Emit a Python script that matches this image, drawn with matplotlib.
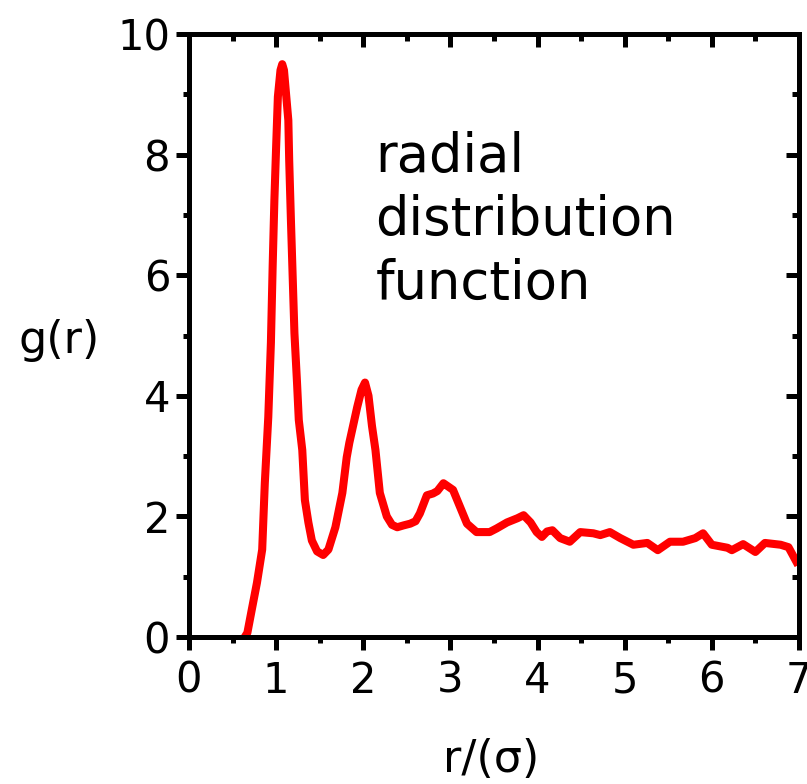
#! /usr/bin/env python3
# -*- coding: utf-8 -*-
# g(r) radial distribution function plot
import matplotlib
matplotlib.use('Agg')
import matplotlib.pyplot as plt
import matplotlib.ticker as ticker

# values
r = [0.64, 0.67, 0.72, 0.78, 0.84, 0.87, 0.91, 0.94, 0.96, 0.98,
     1.00, 1.02, 1.05, 1.07, 1.09, 1.11, 1.14, 1.15, 1.17, 1.19,
     1.21, 1.24, 1.26, 1.30, 1.33, 1.37, 1.41, 1.47, 1.54, 1.60,
     1.68, 1.76, 1.81, 1.84, 1.93, 1.98, 2.02, 2.06, 2.10, 2.14,
     2.19, 2.27, 2.33, 2.39, 2.46, 2.54, 2.60, 2.65, 2.73, 2.80,
     2.85, 2.92, 2.97, 3.03, 3.11, 3.19, 3.30, 3.38, 3.45, 3.53,
     3.65, 3.77, 3.84, 3.92, 3.99, 4.05, 4.11, 4.17, 4.26, 4.37,
     4.49, 4.64, 4.72, 4.83, 4.95, 5.10, 5.26, 5.38, 5.52, 5.67,
     5.81, 5.90, 6.00, 6.18, 6.23, 6.36, 6.50, 6.61, 6.79, 6.88,
     6.94, 6.97]
g = [0.0, 0.07, 0.45, 0.9, 1.45, 2.55, 3.65, 4.88, 6.14, 7.25,
     8.13, 8.96, 9.4, 9.5, 9.4, 9.07, 8.57, 7.9, 6.9, 5.97,
     5.04, 4.21, 3.6, 3.1, 2.27, 1.9, 1.6, 1.42, 1.36, 1.45,
     1.82, 2.39, 2.98, 3.22, 3.81, 4.1, 4.22, 4.0, 3.5, 3.1,
     2.39, 2.0, 1.86, 1.82, 1.85, 1.88, 1.92, 2.05, 2.35, 2.38,
     2.42, 2.55, 2.5, 2.44, 2.16, 1.88, 1.74, 1.74, 1.74, 1.8,
     1.9, 1.97, 2.02, 1.9, 1.74, 1.66, 1.75, 1.77, 1.64, 1.58,
     1.74, 1.72, 1.69, 1.74, 1.64, 1.53, 1.56, 1.44, 1.58, 1.58,
     1.64, 1.72, 1.53, 1.48, 1.44, 1.54, 1.41, 1.56, 1.53, 1.49,
     1.33, 1.25]

xticks = [0, 1, 2, 3, 4, 5, 6, 7]
yticks = [0, 2, 4, 6, 8, 10]

linewidth = 3.6
fontsize = 30

fig = plt.figure(figsize=(8.07, 7.84), dpi=100)
ax = fig.add_axes([0.2342, 0.1875, 0.990 - 0.2342, 0.9566 - 0.1875])

ax.plot(r, g, color='#ff0000', linewidth=5.8, solid_joinstyle='round')

ax.set_xlim(0, 7)
ax.set_ylim(0, 10)
ax.set_xticks(xticks)
ax.set_yticks(yticks)
ax.xaxis.set_minor_locator(ticker.MultipleLocator(0.5))
ax.yaxis.set_minor_locator(ticker.MultipleLocator(1))
ax.tick_params(which='both', width=linewidth, direction='out',
               top=False, right=False, labelsize=fontsize, pad=4)
ax.tick_params(axis='x', pad=7)
ax.tick_params(which='major', length=9.5)
ax.tick_params(which='minor', length=4.5)
for s in ax.spines.values():
	s.set_linewidth(linewidth)

# top / right ticks point inward
top = ax.secondary_xaxis('top')
top.set_xticks(xticks)
top.xaxis.set_minor_locator(ticker.MultipleLocator(0.5))
top.tick_params(which='both', direction='in', width=linewidth, labeltop=False)
top.tick_params(which='major', length=9.5)
top.tick_params(which='minor', length=5)
top.spines['top'].set_linewidth(linewidth)
right = ax.secondary_yaxis('right')
right.set_yticks(yticks)
right.yaxis.set_minor_locator(ticker.MultipleLocator(1))
right.tick_params(which='both', direction='in', width=linewidth, labelright=False)
right.tick_params(which='major', length=9.5)
right.tick_params(which='minor', length=5)
right.spines['right'].set_linewidth(linewidth)

ax.text(2.14, 8.4, 'radial\ndistribution\nfunction', fontsize=38,
        ha='left', va='top', linespacing=1.29)

fig.text(59 / 807, 1 - 340 / 784, 'g(r)', fontsize=32, ha='center', va='center')
fig.text(491 / 807, 1 - 760 / 784, 'r/(σ)', fontsize=32, ha='center', va='center')

fig.savefig('out.png', dpi=100)
